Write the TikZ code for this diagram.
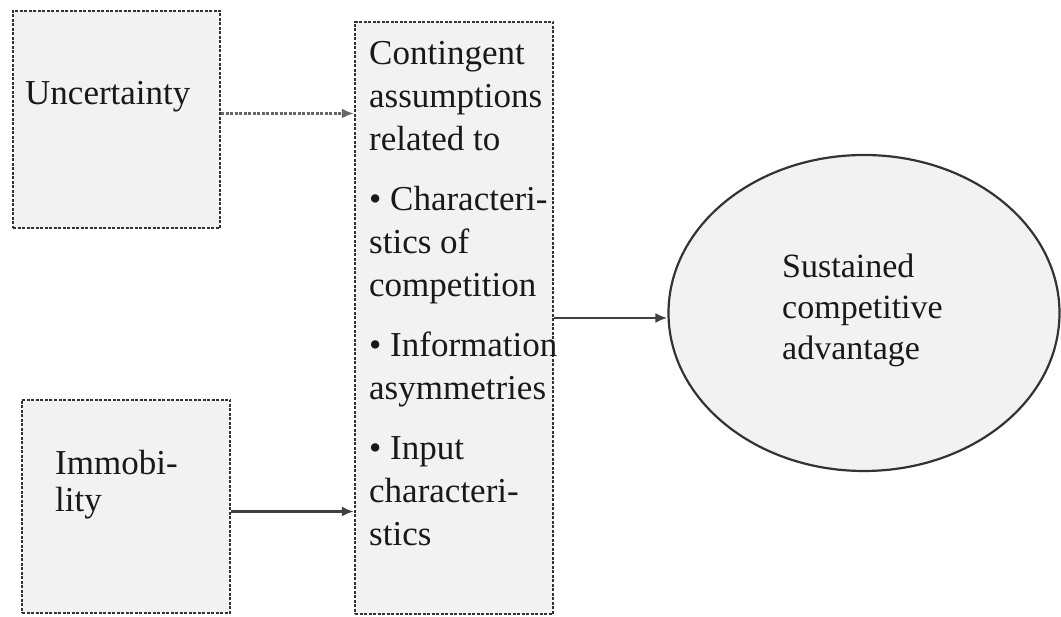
\documentclass[tikz,border=0pt]{standalone}
\usepackage{fontspec}
\setmainfont{Liberation Serif}
\usetikzlibrary{arrows.meta,shapes.geometric}
\begin{document}
\begin{tikzpicture}[x=1pt,y=1pt,
  panel/.style={draw=black!80, line width=2.4pt, dash pattern=on 3pt off 1.5pt,
    fill=black!5, inner sep=0pt, rectangle},
  oval/.style={draw=black!80, line width=2.2pt, fill=black!5, inner sep=0pt, ellipse},
  label/.style={inner sep=0pt, anchor=base west, text=black!90},
  link/.style={line width=2.4pt, draw=black!75,
    -{Latex[length=12pt,width=10pt]}},
]
\useasboundingbox (0,0) rectangle (1061,617);

% input factors
\node[panel, minimum width=207pt, minimum height=217pt] (unc) at (116.5,497.5) {};
\node[panel, minimum width=208pt, minimum height=213pt] (imm) at (126,110.5) {};

% contingent assumptions column
\node[panel, minimum width=198pt, minimum height=592pt] (mid) at (454,299) {};

% outcome
\node[oval, minimum width=391pt, minimum height=316pt] (sca) at (864,304) {};

% texts
\node[label] (uncT) at (25,512) {\fontsize{35}{40}\selectfont Uncertainty};
\node[label] (immT) at (55,142) {\parbox[t]{160pt}{\fontsize{35}{37}\selectfont\raggedright
  Immobi-\\lity}};
\node[label] (midT) at (369,552) {\parbox[t]{190pt}{\fontsize{35}{43}\selectfont\raggedright
  Contingent\\
  assumptions\\
  related to\\[17pt]
  • Characteri-\\
  stics of\\
  competition\\[17pt]
  • Information\\
  asymmetries\\[17pt]
  • Input\\
  characteri-\\
  stics}};
\node[label] (scaT) at (782,339) {\parbox[t]{200pt}{\fontsize{34}{41}\selectfont\raggedright
  Sustained\\competitive\\advantage}};

% connectors
\draw[link, dash pattern=on 3pt off 1.5pt, draw=black!60] ([yshift=6pt]unc.east) -- ([yshift=6pt]unc.east -| mid.west);
\draw[link] ([yshift=-5pt]imm.east) -- ([yshift=-5pt]imm.east -| mid.west);
\draw[link] (mid.east) -- (mid.east -| sca.west);
\end{tikzpicture}
\end{document}
